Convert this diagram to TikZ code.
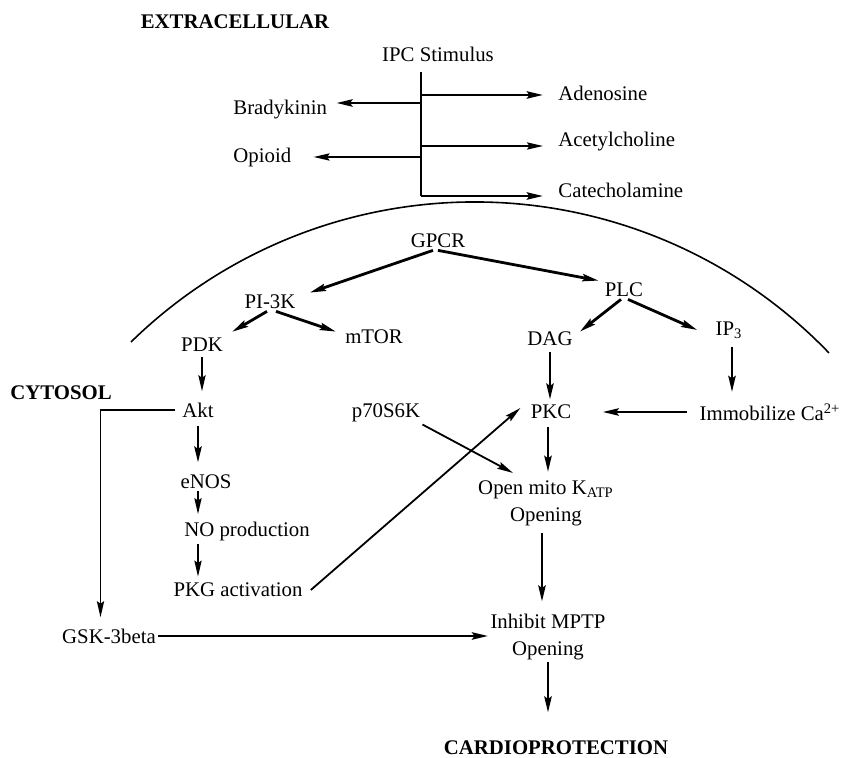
\documentclass[tikz,border=0pt]{standalone}
\usepackage{fontspec}
\setmainfont{Liberation Serif}
\usetikzlibrary{arrows.meta}

\begin{document}
\begin{tikzpicture}[
    x=0.5pt, y=-0.5pt,
    lbl/.style={font=\fontsize{10.4}{13.5}\selectfont, inner sep=1pt},
    hdr/.style={lbl, font=\fontsize{10.4}{13.5}\selectfont\bfseries},
    arr/.style={-{Stealth[length=8pt, width=3.6pt, inset=1.2pt]}, line width=0.9pt},
    thk/.style={arr, line width=1.4pt},
]
\useasboundingbox (0,0) rectangle (843,758);

% Extracellular side
\node[hdr] (extra) at (235,22) {EXTRACELLULAR};
\node[lbl] (ipc) at (438,54) {IPC Stimulus};
\node[lbl, anchor=west] (ade) at (556,93) {Adenosine};
\node[lbl, anchor=west] (ach) at (556,142) {Acetylcholine};
\node[lbl, anchor=west] (cat) at (556,190) {Catecholamine};
\node[lbl, anchor=west] (bk) at (231,110) {Bradykinin};
\node[lbl, anchor=west] (opi) at (231,158) {Opioid};

\coordinate (t1) at (421,95);
\coordinate (t2) at (421,103);
\coordinate (t3) at (421,146);
\coordinate (t4) at (421,157);
\coordinate (t5) at (421,196);

\draw[line width=0.9pt, shorten <=4pt] (ipc.south -| t5) -- (t5);
\draw[thk, shorten >=6.5pt] (t1) -- (t1 -| ade.west);
\draw[arr, shorten >=6.5pt] (t3) -- (t3 -| ach.west);
\draw[thk, shorten >=6.5pt] (t5) -- (t5 -| cat.west);
\draw[thk] (t2) -- ([xshift=3.5pt]t2 -| bk.east);
\draw[arr] (t4) -- ([xshift=10pt]t4 -| opi.east);

% Membrane
\draw[line width=0.8pt] (131,342) arc[start angle=134.35, end angle=43.85, radius=245.75pt];

% Cytosol
\node[hdr] (cyto) at (61,393) {CYTOSOL};
\node[lbl] (gpcr) at (438,241) {GPCR};
\node[lbl] (pi3k) at (270,302) {PI-3K};
\node[lbl] (plc) at (624,290) {PLC};
\node[lbl] (pdk) at (202,345) {PDK};
\node[lbl] (mtor) at (374,337) {mTOR};
\node[lbl] (dag) at (550,339) {DAG};
\node[lbl] (ip3) at (729,330) {IP\textsubscript{3}};
\node[lbl] (akt) at (198,410) {Akt};
\node[lbl] (p70) at (386,413) {p70S6K};
\node[lbl] (pkc) at (551,412) {PKC};
\node[lbl] (imm) at (770,412) {Immobilize Ca\textsuperscript{2+}};
\node[lbl] (enos) at (206,482) {eNOS};
\node[lbl] (no) at (247,532) {NO production};
\node[lbl] (pkg) at (238,590) {PKG activation};
\node[lbl, align=center] (kat) at (546,503) {Open mito K\textsubscript{ATP}\\Opening};
\node[lbl, align=center] (mptp) at (548,637) {Inhibit MPTP\\Opening};
\node[lbl] (gsk) at (109,636) {GSK-3beta};
\node[hdr] (cardio) at (556,748) {CARDIOPROTECTION};

% Receptor branches
\draw[thk] ([xshift=-2.5pt]gpcr.south) -- ([xshift=6pt]pi3k.north east);
\draw[thk] (gpcr.south) -- ([xshift=-2pt]plc.north west);
\draw[thk] ([xshift=-1.5pt]pi3k.south) -- ([shift={(7,-4)}]pdk.north east);
\draw[thk] ([xshift=3pt]pi3k.south) -- ([shift={(-7,4)}]mtor.north west);
\draw[thk] ([xshift=-1.5pt]plc.south) -- ([shift={(5,2)}]dag.north east);
\draw[thk] ([xshift=2pt]plc.south) -- ([xshift=-8pt]ip3.west);

% Downstream
\draw[arr, shorten <=1.5pt, shorten >=4.5pt] (pdk.south) -- (pdk.south |- akt.north);
\draw[thk, shorten <=2pt, shorten >=1.5pt] (dag.south) -- (dag.south |- pkc.north);
\draw[thk, shorten <=3pt, shorten >=4.5pt] ([xshift=1.5pt]ip3.south) -- ([xshift=1.5pt]ip3.south |- imm.north);
\draw[thk, shorten <=5pt, shorten >=14.5pt] (imm.west |- pkc) -- (pkc.east);
\draw[thk, shorten <=3pt, shorten >=5pt] (akt.south) -- (akt.south |- enos.north);
\draw[arr, shorten >=3pt] (enos.south -| akt) -- (no.north -| akt);
\draw[arr, shorten >=2pt] (no.south -| akt) -- (pkg.north -| akt);
\draw[arr, shorten <=2.5pt, shorten >=4.5pt] (akt.west) -| ([xshift=-4.25pt]gsk.north);
\draw[arr] ([xshift=3pt]pkg.east) -- ([shift={(-8,-4)}]pkc.west);
\draw[arr] (p70.south east) -- ([shift={(-33,-5)}]kat.north);
\draw[thk, shorten <=3pt, shorten >=3pt] ([xshift=-1.5pt]pkc.south) -- ([xshift=-1.5pt]pkc.south |- kat.north);
\draw[thk, shorten <=2.5pt, shorten >=5pt] ([xshift=-2pt]kat.south) -- ([xshift=-2pt]kat.south |- mptp.north);
\draw[thk] (gsk.east) -- (gsk.east -| mptp.west);
\draw[thk, shorten >=13pt] (mptp.south) -- (mptp.south |- cardio.north);
\end{tikzpicture}
\end{document}
